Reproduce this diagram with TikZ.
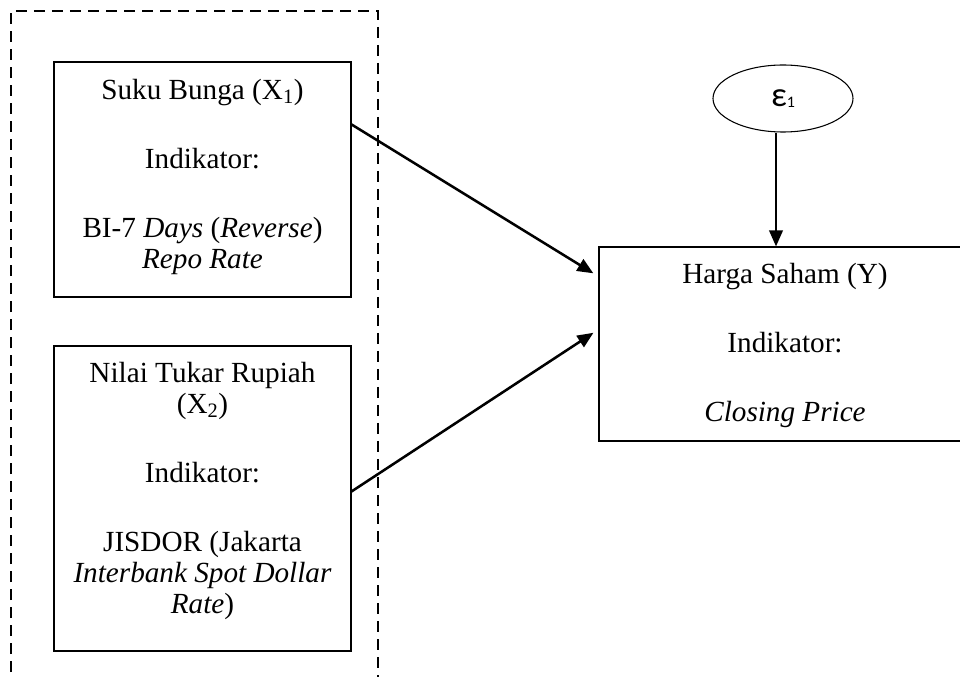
\documentclass[tikz,border=0pt]{standalone}
\usepackage{fontspec}
\setmainfont{Liberation Serif}
\newfontfamily\epsfont{Carlito}
\usepackage{tikz}
\usetikzlibrary{arrows.meta,shapes.geometric}

\tikzset{
    kotak/.style={draw, line width=0.8pt, inner sep=0pt},
    isi/.style={anchor=north, inner sep=0pt, align=center, font=\fontsize{21.9}{23.25}\selectfont},
    panah/.style={line width=1.9pt, -{Triangle[length=12pt,width=10pt]}},
}
\newcommand{\jeda}{\\[28.5pt]}

\begin{document}
\begin{tikzpicture}[x=0.75pt,y=0.75pt,yscale=-1,xscale=1]
        \useasboundingbox (0,0) rectangle (960,677);
        \clip (0,0) rectangle (960,677);

        % garis putus-putus
        \draw [line width=2.1pt, dash pattern=on 7.9pt off 5.6pt] (11,690) -- (11,11) -- (378,11) -- (378,690);

        % kotak variabel
        \node [kotak, minimum width=222.75pt, minimum height=176.25pt] (x1box) at (202.5,179.5) {};
        \node [kotak, minimum width=222.75pt, minimum height=228.75pt] (x2box) at (202.5,498.5) {};
        \node [kotak, minimum width=279pt, minimum height=145.5pt] (ybox) at (785,344) {};
        \node [draw, ellipse, line width=0.8pt, minimum width=105pt, minimum height=50.25pt, inner sep=0pt] (eps) at (783,98.5) {\epsfont\fontsize{26}{26}\selectfont ε\raisebox{-0.5pt}{\fontsize{12}{12}\selectfont 1}};

        % teks
        \node [isi] (x1text) at (202.5,79) {Suku Bunga (X\textsubscript{1})\jeda Indikator:\jeda BI-7 \textit{Days} (\textit{Reverse})\\\textit{Repo Rate}};
        \node [isi] (x2text) at (202.5,362) {Nilai Tukar Rupiah\\(X\textsubscript{2})\jeda Indikator:\jeda JISDOR (Jakarta\\\textit{Interbank Spot Dollar}\\\textit{Rate})};
        \node [isi] (ytext) at (785,263) {Harga Saham (Y)\jeda Indikator:\jeda \textit{Closing Price}};

        % panah
        \draw [panah, shorten >=4.5pt] ([yshift=47.25pt]x1box.north east) -- ([yshift=22.5pt]ybox.north west);
        \draw [panah, shorten >=4.5pt] ([yshift=109.5pt]x2box.north east) -- ([yshift=62.25pt]ybox.north west);
        \draw [panah] ([xshift=-5.25pt]eps.south) -- ([xshift=-5.25pt]eps.south |- ybox.north);

    \end{tikzpicture}
\end{document}
